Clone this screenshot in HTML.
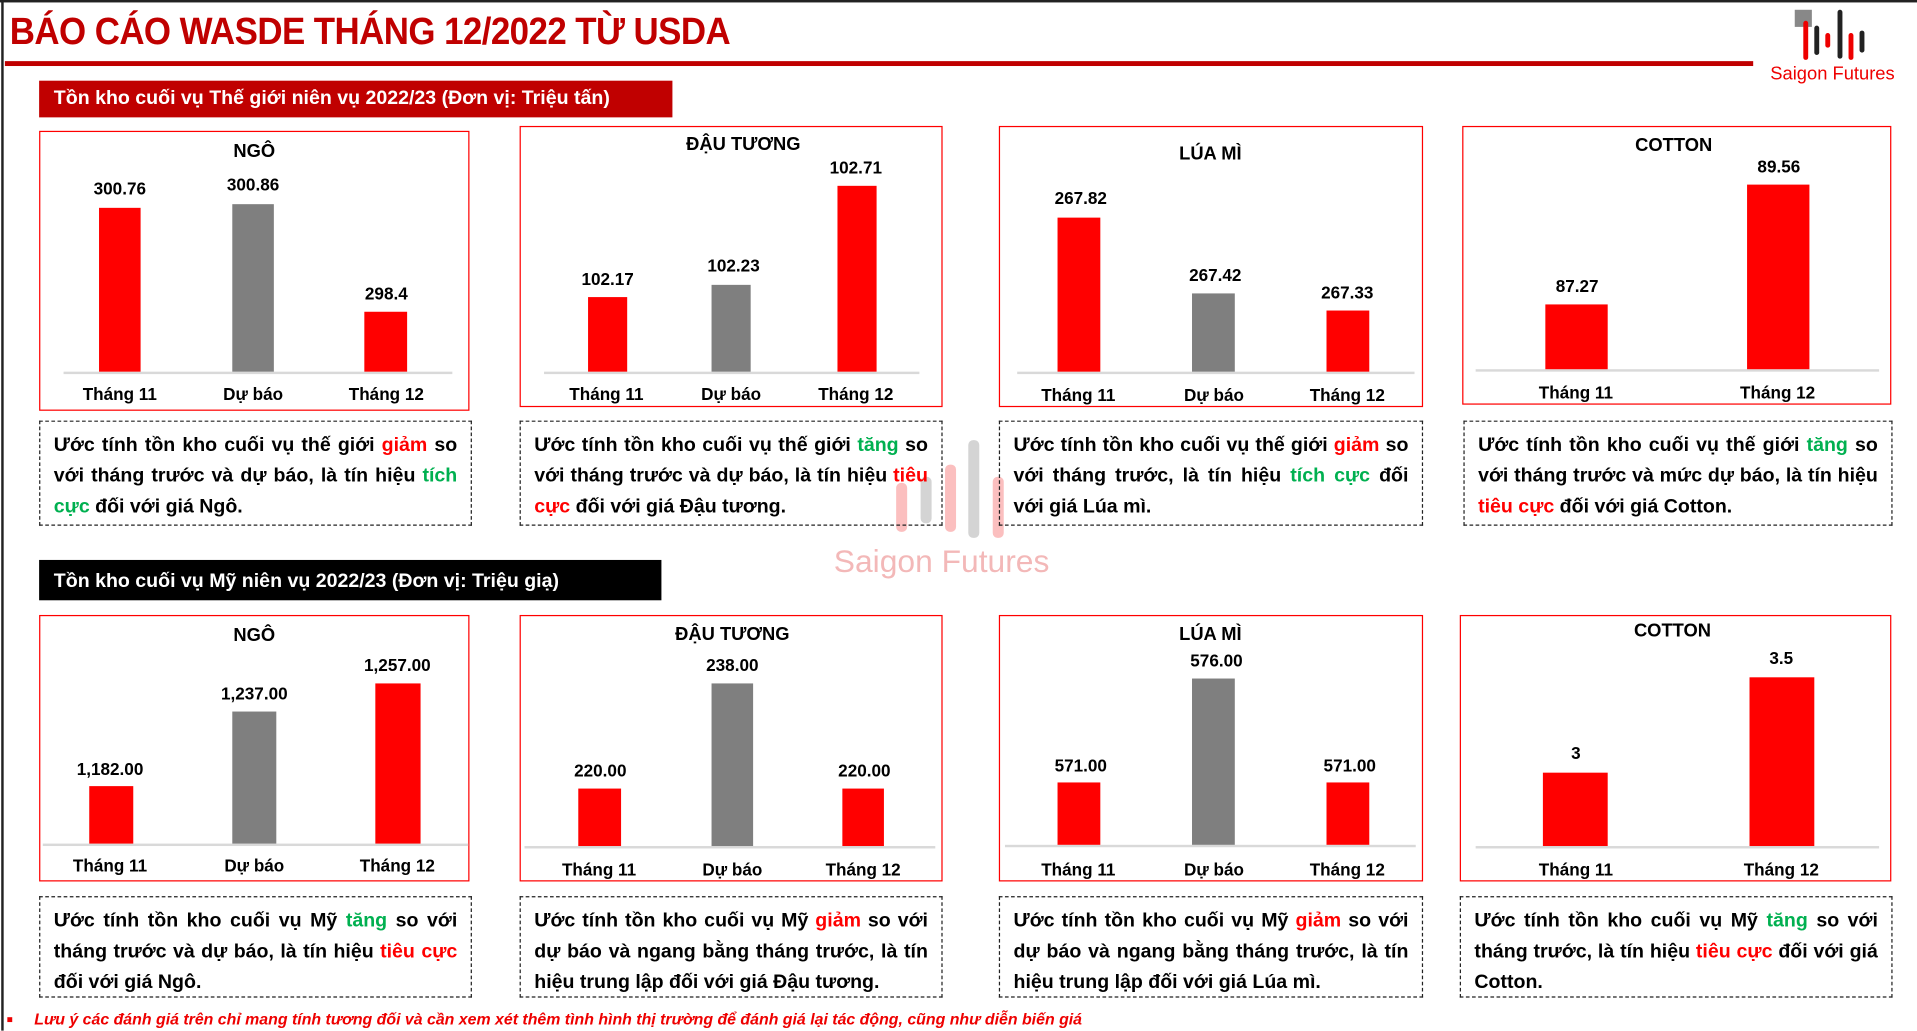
<!DOCTYPE html>
<html><head><meta charset="utf-8">
<style>
html,body{margin:0;padding:0;background:#fff;overflow:hidden;}
body{width:1917px;height:1031px;position:relative;}
#w{position:absolute;left:0;top:0;width:1568px;height:843px;transform:scale(1.22258);transform-origin:0 0;font-family:"Liberation Sans","Noto Sans CJK SC",sans-serif;font-weight:bold;color:#000;}
.a{position:absolute;}
.c{position:absolute;transform:translate(-50%,-50%);white-space:nowrap;font-size:14px;}
.t{font-size:15px;}
.box{position:absolute;border:1.5px solid #f00;box-sizing:border-box;}
.ax{position:absolute;height:2px;background:#d9d9d9;}
.bar{position:absolute;}
.r{background:#ff0000;}.g{background:#7f7f7f;}
.d{position:absolute;border:1.5px dashed #222;box-sizing:border-box;padding:7px 11px;font-size:16px;line-height:25px;text-align:justify;}
.R{color:#ff0000}.G{color:#00b050}
</style></head><body>
<div id="w">
<div class="a" style="left:0;top:0;width:1568px;height:2px;background:#222"></div>
<div class="a" style="left:1px;top:0;width:2px;height:843px;background:#222"></div>
<div class="a" style="left:8px;top:8px;font-size:31px;color:#c00000;white-space:nowrap;transform:scaleX(0.92);transform-origin:0 0;letter-spacing:-0.5px">BÁO CÁO WASDE THÁNG 12/2022 TỪ USDA</div>
<div class="a" style="left:4px;top:50px;width:1430px;height:4px;background:#c00000"></div>
<svg class="a" style="left:1465px;top:5px" width="70" height="46">
<rect x="3" y="3" width="14" height="14" fill="#888"/>
<rect x="10" y="12" width="4" height="32" rx="2" fill="#e00"/>
<rect x="19" y="16" width="4" height="24" rx="2" fill="#222"/>
<rect x="28" y="22" width="4" height="12" rx="2" fill="#e00"/>
<rect x="38" y="3" width="4" height="40" rx="2" fill="#222"/>
<rect x="47" y="22" width="4" height="22" rx="2" fill="#e00"/>
<rect x="56" y="20" width="4" height="18" rx="2" fill="#222"/>
</svg>
<div class="a" style="left:1448px;top:52px;font-size:15px;color:#e00;font-weight:normal;white-space:nowrap">Saigon Futures</div>
<svg class="a" style="left:725px;top:355px;opacity:0.25" width="120" height="90">
<rect x="8" y="40" width="9" height="40" rx="4" fill="#e00"/>
<rect x="28" y="35" width="9" height="38" rx="4" fill="#555"/>
<rect x="48" y="25" width="9" height="55" rx="4" fill="#e00"/>
<rect x="67" y="5" width="9" height="80" rx="4" fill="#555"/>
<rect x="87" y="35" width="9" height="50" rx="4" fill="#e00"/>
</svg>
<div class="a" style="left:682px;top:444px;font-size:26px;color:#f3b8b8;font-weight:normal;white-space:nowrap">Saigon Futures</div>

<div class="a" style="left:32px;top:66px;width:518px;height:30px;background:#c00000;color:#fff;font-size:16px;line-height:30px;padding-left:12px;box-sizing:border-box;white-space:nowrap">Tồn kho cuối vụ Thế giới niên vụ 2022/23 (Đơn vị: Triệu tấn)</div>
<div class="a" style="left:32px;top:458px;width:509px;height:33px;background:#000;color:#fff;font-size:16px;line-height:35px;padding-left:12px;box-sizing:border-box;white-space:nowrap">Tồn kho cuối vụ Mỹ niên vụ 2022/23 (Đơn vị: Triệu giạ)</div>

<div class="box" style="left:32px;top:107px;width:352px;height:229px"></div>
<div class="c t" style="left:208px;top:124px">NGÔ</div>
<div class="ax" style="left:52px;top:304px;width:318px"></div>
<div class="bar r" style="left:81px;top:170px;width:34px;height:134px"></div>
<div class="bar g" style="left:190px;top:167px;width:34px;height:137px"></div>
<div class="bar r" style="left:298px;top:255px;width:35px;height:49px"></div>
<div class="c" style="left:98px;top:154px">300.76</div>
<div class="c" style="left:207px;top:151px">300.86</div>
<div class="c" style="left:316px;top:240px">298.4</div>
<div class="c" style="left:98px;top:322px">Tháng 11</div>
<div class="c" style="left:207px;top:322px">Dự báo</div>
<div class="c" style="left:316px;top:322px">Tháng 12</div>

<div class="box" style="left:425px;top:103px;width:346px;height:230px"></div>
<div class="c t" style="left:608px;top:118px">ĐẬU TƯƠNG</div>
<div class="ax" style="left:445px;top:304px;width:307px"></div>
<div class="bar r" style="left:481px;top:243px;width:32px;height:61px"></div>
<div class="bar g" style="left:582px;top:233px;width:32px;height:71px"></div>
<div class="bar r" style="left:685px;top:152px;width:32px;height:152px"></div>
<div class="c" style="left:497px;top:228px">102.17</div>
<div class="c" style="left:600px;top:217px">102.23</div>
<div class="c" style="left:700px;top:137px">102.71</div>
<div class="c" style="left:496px;top:322px">Tháng 11</div>
<div class="c" style="left:598px;top:322px">Dự báo</div>
<div class="c" style="left:700px;top:322px">Tháng 12</div>

<div class="box" style="left:817px;top:103px;width:347px;height:230px"></div>
<div class="c t" style="left:990px;top:126px">LÚA MÌ</div>
<div class="ax" style="left:832px;top:304px;width:325px"></div>
<div class="bar r" style="left:865px;top:178px;width:35px;height:126px"></div>
<div class="bar g" style="left:975px;top:240px;width:35px;height:64px"></div>
<div class="bar r" style="left:1085px;top:254px;width:35px;height:50px"></div>
<div class="c" style="left:884px;top:162px">267.82</div>
<div class="c" style="left:994px;top:225px">267.42</div>
<div class="c" style="left:1102px;top:239px">267.33</div>
<div class="c" style="left:882px;top:323px">Tháng 11</div>
<div class="c" style="left:993px;top:323px">Dự báo</div>
<div class="c" style="left:1102px;top:323px">Tháng 12</div>

<div class="box" style="left:1196px;top:103px;width:351px;height:228px"></div>
<div class="c t" style="left:1369px;top:119px">COTTON</div>
<div class="ax" style="left:1207px;top:302px;width:330px"></div>
<div class="bar r" style="left:1264px;top:249px;width:51px;height:53px"></div>
<div class="bar r" style="left:1429px;top:151px;width:51px;height:151px"></div>
<div class="c" style="left:1290px;top:234px">87.27</div>
<div class="c" style="left:1455px;top:136px">89.56</div>
<div class="c" style="left:1289px;top:321px">Tháng 11</div>
<div class="c" style="left:1454px;top:321px">Tháng 12</div>

<div class="d" style="left:32px;top:344px;width:354px;height:86px">Ước tính tồn kho cuối vụ thế giới <span class="R">giảm</span> so với tháng trước và dự báo, là tín hiệu <span class="G">tích cực</span> đối với giá Ngô.</div>
<div class="d" style="left:425px;top:344px;width:346px;height:86px">Ước tính tồn kho cuối vụ thế giới <span class="G">tăng</span> so với tháng trước và dự báo, là tín hiệu <span class="R">tiêu cực</span> đối với giá Đậu tương.</div>
<div class="d" style="left:817px;top:344px;width:347px;height:86px">Ước tính tồn kho cuối vụ thế giới <span class="R">giảm</span> so với tháng trước, là tín hiệu <span class="G">tích cực</span> đối với giá Lúa mì.</div>
<div class="d" style="left:1197px;top:344px;width:351px;height:86px">Ước tính tồn kho cuối vụ thế giới <span class="G">tăng</span> so với tháng trước và mức dự báo, là tín hiệu <span class="R">tiêu cực</span> đối với giá Cotton.</div>

<div class="box" style="left:32px;top:503px;width:352px;height:218px"></div>
<div class="c t" style="left:208px;top:520px">NGÔ</div>
<div class="ax" style="left:35px;top:690px;width:348px"></div>
<div class="bar r" style="left:73px;top:643px;width:36px;height:47px"></div>
<div class="bar g" style="left:190px;top:582px;width:36px;height:108px"></div>
<div class="bar r" style="left:307px;top:559px;width:37px;height:131px"></div>
<div class="c" style="left:90px;top:629px">1,182.00</div>
<div class="c" style="left:208px;top:567px">1,237.00</div>
<div class="c" style="left:325px;top:544px">1,257.00</div>
<div class="c" style="left:90px;top:708px">Tháng 11</div>
<div class="c" style="left:208px;top:708px">Dự báo</div>
<div class="c" style="left:325px;top:708px">Tháng 12</div>

<div class="box" style="left:425px;top:503px;width:346px;height:218px"></div>
<div class="c t" style="left:599px;top:519px">ĐẬU TƯƠNG</div>
<div class="ax" style="left:429px;top:692px;width:336px"></div>
<div class="bar r" style="left:473px;top:645px;width:35px;height:47px"></div>
<div class="bar g" style="left:582px;top:559px;width:34px;height:133px"></div>
<div class="bar r" style="left:689px;top:645px;width:34px;height:47px"></div>
<div class="c" style="left:491px;top:630px">220.00</div>
<div class="c" style="left:599px;top:544px">238.00</div>
<div class="c" style="left:707px;top:630px">220.00</div>
<div class="c" style="left:490px;top:711px">Tháng 11</div>
<div class="c" style="left:599px;top:711px">Dự báo</div>
<div class="c" style="left:706px;top:711px">Tháng 12</div>

<div class="box" style="left:817px;top:503px;width:347px;height:218px"></div>
<div class="c t" style="left:990px;top:519px">LÚA MÌ</div>
<div class="ax" style="left:822px;top:691px;width:336px"></div>
<div class="bar r" style="left:865px;top:640px;width:35px;height:51px"></div>
<div class="bar g" style="left:975px;top:555px;width:35px;height:136px"></div>
<div class="bar r" style="left:1085px;top:640px;width:35px;height:51px"></div>
<div class="c" style="left:884px;top:626px">571.00</div>
<div class="c" style="left:995px;top:540px">576.00</div>
<div class="c" style="left:1104px;top:626px">571.00</div>
<div class="c" style="left:882px;top:711px">Tháng 11</div>
<div class="c" style="left:993px;top:711px">Dự báo</div>
<div class="c" style="left:1102px;top:711px">Tháng 12</div>

<div class="box" style="left:1194px;top:503px;width:353px;height:218px"></div>
<div class="c t" style="left:1368px;top:516px">COTTON</div>
<div class="ax" style="left:1207px;top:692px;width:330px"></div>
<div class="bar r" style="left:1262px;top:632px;width:53px;height:60px"></div>
<div class="bar r" style="left:1431px;top:554px;width:53px;height:138px"></div>
<div class="c" style="left:1289px;top:616px">3</div>
<div class="c" style="left:1457px;top:538px">3.5</div>
<div class="c" style="left:1289px;top:711px">Tháng 11</div>
<div class="c" style="left:1457px;top:711px">Tháng 12</div>

<div class="d" style="left:32px;top:733px;width:354px;height:83px">Ước tính tồn kho cuối vụ Mỹ <span class="G">tăng</span> so với tháng trước và dự báo, là tín hiệu <span class="R">tiêu cực</span> đối với giá Ngô.</div>
<div class="d" style="left:425px;top:733px;width:346px;height:83px">Ước tính tồn kho cuối vụ Mỹ <span class="R">giảm</span> so với dự báo và ngang bằng tháng trước, là tín hiệu trung lập đối với giá Đậu tương.</div>
<div class="d" style="left:817px;top:733px;width:347px;height:83px">Ước tính tồn kho cuối vụ Mỹ <span class="R">giảm</span> so với dự báo và ngang bằng tháng trước, là tín hiệu trung lập đối với giá Lúa mì.</div>
<div class="d" style="left:1194px;top:733px;width:354px;height:83px">Ước tính tồn kho cuối vụ Mỹ <span class="G">tăng</span> so với tháng trước, là tín hiệu <span class="R">tiêu cực</span> đối với giá Cotton.</div>

<div class="a" style="left:6px;top:832px;width:4px;height:4px;background:#e00"></div>
<div class="a" style="left:28px;top:826px;font-size:13px;font-style:italic;color:#e00;white-space:nowrap">Lưu ý các đánh giá trên chỉ mang tính tương đối và cần xem xét thêm tình hình thị trường để đánh giá lại tác động, cũng như diễn biến giá</div>
</div>
</body></html>
